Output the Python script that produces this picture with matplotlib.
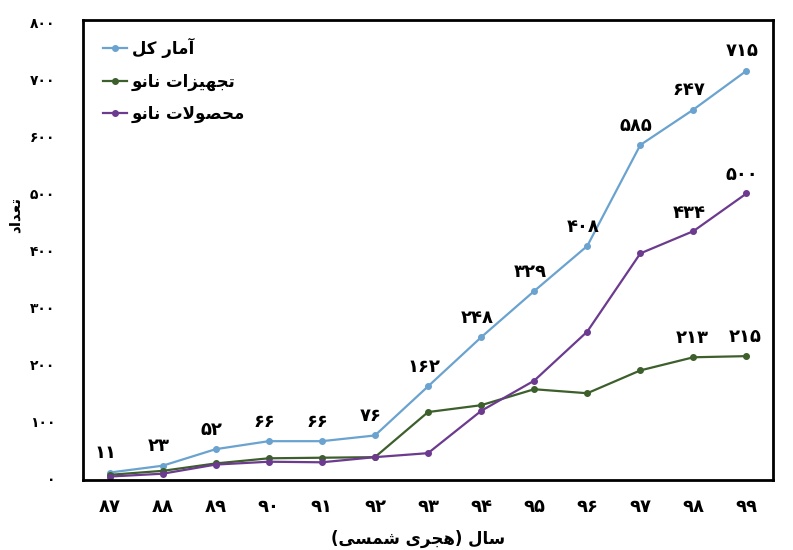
#!/usr/bin/env python3

"""Nano statistics trend (total, equipment, products) per Persian year."""

import matplotlib
matplotlib.use('Agg')
import matplotlib.pyplot as plt

YEARS = [87, 88, 89, 90, 91, 92, 93, 94, 95, 96, 97, 98, 99]
TOTAL = [11, 23, 52, 66, 66, 76, 162, 248, 329, 408, 585, 647, 715]
EQUIPMENT = [7, 14, 27, 36, 37, 38, 117, 129, 157, 150, 190, 213, 215]
PRODUCTS = [4, 9, 25, 30, 29, 38, 45, 119, 172, 258, 395, 434, 500]
Y_TICKS = [0, 100, 200, 300, 400, 500, 600, 700, 800]

NAME_TOTAL = "آمار کل"
NAME_EQUIPMENT = "تجهیزات نانو"
NAME_PRODUCTS = "محصولات نانو"
Y_TITLE = "تعداد"
X_TITLE = "سال (هجری شمسی)"

# presentation forms: (isolated, final, initial, medial)
FORMS = {
    'آ': ('\uFE81', '\uFE82', None, None),
    'ا': ('\uFE8D', '\uFE8E', None, None),
    'ت': ('\uFE95', '\uFE96', '\uFE97', '\uFE98'),
    'ج': ('\uFE9D', '\uFE9E', '\uFE9F', '\uFEA0'),
    'ح': ('\uFEA1', '\uFEA2', '\uFEA3', '\uFEA4'),
    'د': ('\uFEA9', '\uFEAA', None, None),
    'ر': ('\uFEAD', '\uFEAE', None, None),
    'ز': ('\uFEAF', '\uFEB0', None, None),
    'س': ('\uFEB1', '\uFEB2', '\uFEB3', '\uFEB4'),
    'ش': ('\uFEB5', '\uFEB6', '\uFEB7', '\uFEB8'),
    'ص': ('\uFEB9', '\uFEBA', '\uFEBB', '\uFEBC'),
    'ع': ('\uFEC9', '\uFECA', '\uFECB', '\uFECC'),
    'ل': ('\uFEDD', '\uFEDE', '\uFEDF', '\uFEE0'),
    'م': ('\uFEE1', '\uFEE2', '\uFEE3', '\uFEE4'),
    'ن': ('\uFEE5', '\uFEE6', '\uFEE7', '\uFEE8'),
    'ه': ('\uFEE9', '\uFEEA', '\uFEEB', '\uFEEC'),
    'و': ('\uFEED', '\uFEEE', None, None),
    'ی': ('\uFBFC', '\uFBFD', '\uFBFE', '\uFBFF'),
    'ک': ('\uFB8E', '\uFB8F', '\uFB90', '\uFB91'),
}
MIRROR = {'(': ')', ')': '('}


def joins_left(c):
    return c in FORMS and FORMS[c][2] is not None


def fa(text):
    """shape persian text and return it in visual (left-to-right) order"""
    out = []
    i = 0
    while i < len(text):
        c = text[i]
        prev = text[i - 1] if i > 0 else ''
        from_prev = joins_left(prev)
        nxt = text[i + 1] if i + 1 < len(text) else ''
        if c == 'ل' and nxt == 'ا':
            out.append('\uFEFC' if from_prev else '\uFEFB')
            i += 2
            continue
        if c not in FORMS:
            out.append(MIRROR.get(c, c))
            i += 1
            continue
        to_next = joins_left(c) and nxt in FORMS
        iso, fin, ini, med = FORMS[c]
        if from_prev and to_next:
            out.append(med)
        elif from_prev:
            out.append(fin)
        elif to_next:
            out.append(ini)
        else:
            out.append(iso)
        i += 1
    return ''.join(reversed(out))


def fa_digits(n):
    return str(n).translate(str.maketrans('0123456789', '۰۱۲۳۴۵۶۷۸۹'))


def main():
    plt.rcParams['font.family'] = ['DejaVu Sans']
    fig = plt.figure(figsize=(7.93, 5.5), dpi=100)
    ax = fig.add_axes([0.1047, 0.1273, 0.8701, 0.8364])

    x = list(range(len(YEARS)))
    series = [(TOTAL, '#6aa3cf', NAME_TOTAL),
              (EQUIPMENT, '#3d5f2c', NAME_EQUIPMENT),
              (PRODUCTS, '#6c3a8e', NAME_PRODUCTS)]
    for values, color, name in series:
        ax.plot(x, values, color=color, linewidth=1.6, marker='o',
                markersize=4, label=fa(name))

    label_font = dict(fontsize=13, fontweight='bold', ha='center', va='center')
    for i, v in enumerate(TOTAL):
        ax.annotate(fa_digits(v), (x[i], v), xytext=(-3, 14),
                    textcoords='offset points', **label_font)
    for i in (11, 12):
        ax.annotate(fa_digits(EQUIPMENT[i]), (x[i], EQUIPMENT[i]), xytext=(-1, 14),
                    textcoords='offset points', **label_font)
        ax.annotate(fa_digits(PRODUCTS[i]), (x[i], PRODUCTS[i]), xytext=(-3, 13),
                    textcoords='offset points', **label_font)

    ax.set_xlim(-0.5, 12.5)
    ax.set_ylim(-2, 804)
    ax.set_xticks(x)
    ax.set_xticklabels([fa_digits(y) for y in YEARS], fontsize=13, fontweight='bold')
    ax.set_yticks(Y_TICKS)
    ax.set_yticklabels([fa_digits(t) for t in Y_TICKS], fontsize=10, fontweight='bold')
    ax.tick_params(axis='x', length=0, pad=13)
    ax.tick_params(axis='y', length=0, pad=20)
    for spine in ax.spines.values():
        spine.set_linewidth(2)

    ax.set_ylabel(fa(Y_TITLE), fontsize=11, fontweight='bold')
    ax.yaxis.set_label_coords(-0.088, 0.576)
    fig.text(418 / 793, 11 / 550, fa(X_TITLE), fontsize=12, fontweight='bold',
             ha='center', va='center')

    ax.legend(loc='upper left', bbox_to_anchor=(0.02, 0.975), borderaxespad=0,
              frameon=False, handlelength=1.4, handletextpad=0.3,
              labelspacing=0.85, prop={'weight': 'bold', 'size': 12})

    fig.savefig('out.png', dpi=100)


if __name__ == "__main__":
    main()
